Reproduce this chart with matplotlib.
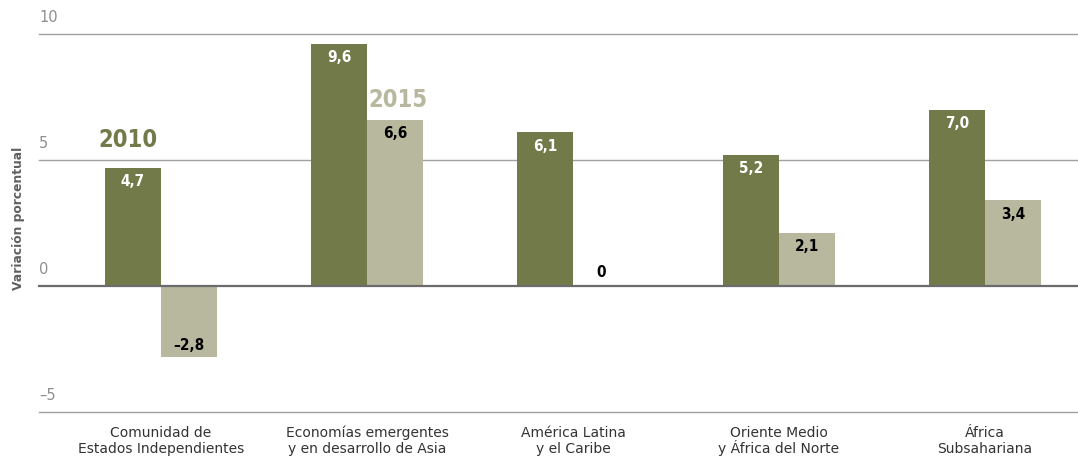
import matplotlib.pyplot as plt
import numpy as np

categories = [("Comunidad de", "Estados Independientes"),
              ("Economías emergentes", "y en desarrollo de Asia"),
              ("América Latina", "y el Caribe"),
              ("Oriente Medio", "y África del Norte"),
              ("África", "Subsahariana")]
vals_2010 = [4.7, 9.6, 6.1, 5.2, 7.0]
vals_2015 = [-2.8, 6.6, 0.0, 2.1, 3.4]
yticks = [-5, 0, 5, 10]

dark = "#737a4a"
light = "#b7b89e"


def fmt(v):
    s = f"{abs(v):.1f}".replace(".", ",")
    if v == 0:
        return "0"
    return ("\u2013" + s) if v < 0 else s


fig = plt.figure(figsize=(10.78, 4.57), dpi=100)
ax = fig.add_axes([39 / 1078, (457 - 412) / 457, 1 - 39 / 1078, (412 - 34) / 457])

x = np.arange(len(categories))
w = 0.272
ax.set_xlim(-0.592, 4.451)
ax.set_ylim(-5, 10)

for t in yticks:
    lw, col = (1.6, "#6b6b6b") if t == 0 else (1.0, "#a0a0a0")
    ax.axhline(t, color=col, lw=lw, zorder=3 if t == 0 else 0, clip_on=False)
    ax.text(-0.592, t + 0.35, "\u2013" + str(abs(t)) if t < 0 else str(t),
            color="#8f8f8f", fontsize=10.5, ha="left", va="bottom")

ax.bar(x - w / 2, vals_2010, w, color=dark, zorder=2)
ax.bar(x + w / 2, vals_2015, w, color=light, zorder=2)

lab = dict(fontsize=11, fontweight="bold", fontstretch="condensed", family="DejaVu Sans")
for i in range(len(categories)):
    v = vals_2010[i]
    ax.text(x[i] - w / 2, v - 0.55, fmt(v), ha="center", va="center", color="white", **lab)
    v = vals_2015[i]
    if v > 0:
        yy = v - 0.55
    elif v < 0:
        yy = v + 0.45
    else:
        yy = 0.55
    ax.text(x[i] + w / 2, yy, fmt(v), ha="center", va="center", color="black", **lab)

# series names sit above the first bar of each colour
big = dict(fontsize=17, fontweight="bold", fontstretch="condensed", family="DejaVu Sans")
ax.text(x[0] - w / 2 - 0.025, vals_2010[0] + 1.1, "2010", ha="center", va="center", color=dark, **big)
ax.text(x[1] + w / 2 + 0.015, vals_2015[1] + 0.8, "2015", ha="center", va="center", color=light, **big)

for i, (l1, l2) in enumerate(categories):
    ax.text(x[i], -5.99, l1, ha="center", va="baseline", color="#333333", fontsize=10)
    ax.text(x[i], -6.63, l2, ha="center", va="baseline", color="#333333", fontsize=10)

fig.text(19 / 1078, 1 - 218 / 457, "Variación porcentual", rotation=90,
         ha="center", va="center", color="#606060", fontsize=8.8, fontweight="bold")

ax.axis("off")
fig.savefig("out.png", dpi=100)
